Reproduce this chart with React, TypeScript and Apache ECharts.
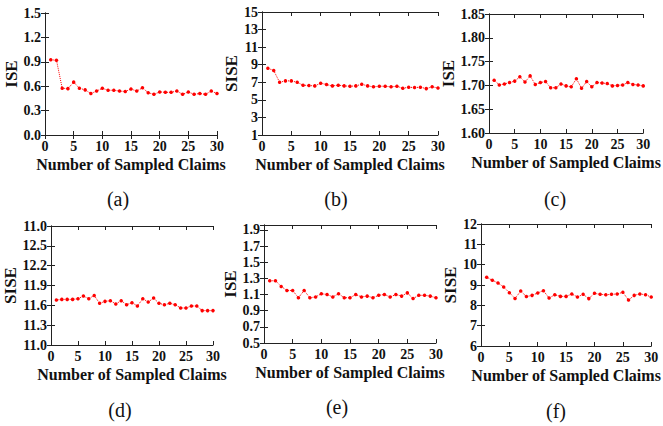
import React, { useEffect, useRef } from "react";
import * as echarts from "echarts";

const claims = [1, 2, 3, 4, 5, 6, 7, 8, 9, 10, 11, 12, 13, 14, 15, 16, 17, 18, 19, 20, 21, 22, 23, 24, 25, 26, 27, 28, 29, 30];

const iseA = [0.925, 0.92, 0.575, 0.57, 0.65, 0.575, 0.555, 0.51, 0.54, 0.575, 0.55, 0.55, 0.54, 0.535, 0.565, 0.54, 0.58, 0.52, 0.5, 0.53, 0.525, 0.525, 0.54, 0.5, 0.53, 0.5, 0.51, 0.5, 0.54, 0.51];
const siseB = [8.6, 8.34, 7.0, 7.16, 7.16, 7.0, 6.67, 6.63, 6.59, 6.9, 6.74, 6.59, 6.67, 6.59, 6.55, 6.59, 6.78, 6.59, 6.48, 6.55, 6.55, 6.48, 6.55, 6.32, 6.44, 6.4, 6.44, 6.28, 6.48, 6.36];
const iseC = [1.711, 1.701, 1.703, 1.706, 1.709, 1.718, 1.707, 1.72, 1.702, 1.706, 1.708, 1.695, 1.695, 1.703, 1.699, 1.697, 1.714, 1.694, 1.708, 1.697, 1.706, 1.705, 1.704, 1.699, 1.7, 1.701, 1.706, 1.702, 1.701, 1.699];
const siseD = [11.68, 11.69, 11.69, 11.69, 11.7, 11.74, 11.7, 11.75, 11.63, 11.66, 11.67, 11.62, 11.67, 11.61, 11.64, 11.59, 11.7, 11.65, 11.71, 11.63, 11.61, 11.63, 11.61, 11.56, 11.56, 11.59, 11.59, 11.52, 11.52, 11.52];
const iseE = [1.27, 1.27, 1.2, 1.15, 1.15, 1.06, 1.15, 1.06, 1.07, 1.11, 1.1, 1.07, 1.11, 1.06, 1.06, 1.1, 1.07, 1.08, 1.06, 1.09, 1.1, 1.07, 1.1, 1.08, 1.12, 1.05, 1.09, 1.09, 1.08, 1.06];
const siseF = [9.38, 9.23, 9.1, 8.9, 8.62, 8.34, 8.7, 8.43, 8.49, 8.61, 8.72, 8.36, 8.52, 8.44, 8.44, 8.56, 8.41, 8.54, 8.33, 8.59, 8.54, 8.52, 8.54, 8.56, 8.64, 8.26, 8.49, 8.56, 8.52, 8.41];

// tick labels of panel (d), as printed in the original figure
const yTickLabelsD = ["11.0", "11.3", "11.6", "11.9", "12.2", "12.5", "11.0"];
const captions = ["(a)", "(b)", "(c)", "(d)", "(e)", "(f)"];
const yNames = ["ISE", "SISE", "ISE", "SISE", "ISE", "SISE"];
const xName = "Number of Sampled Claims";

const FONT = "'Liberation Serif', 'Times New Roman', serif";

export default function App() {
  const ref = useRef<HTMLDivElement>(null);

  useEffect(() => {
    if (!ref.current) return;
    const chart = echarts.init(ref.current, undefined, { renderer: "svg" });

    const panels = [
      { data: iseA, grid: { left: 45, top: 13, width: 172, height: 122 }, min: 0, max: 1.5, interval: 0.3, fmt: (v: number) => v.toFixed(1), gap: 21, cap: [118, 199] },
      { data: siseB, grid: { left: 262, top: 12, width: 176, height: 123 }, min: 1, max: 15, interval: 2, fmt: (v: number) => v.toFixed(0), gap: 18, cap: [336, 199] },
      { data: iseC, grid: { left: 489, top: 14, width: 163, height: 119 }, min: 1.6, max: 1.85, interval: 0.05, fmt: (v: number) => v.toFixed(2), gap: 27, cap: [555, 199] },
      { data: siseD, grid: { left: 51, top: 226, width: 162, height: 119 }, min: 11, max: 12.8, interval: 0.3, fmt: (v: number) => yTickLabelsD[Math.round((v - 11) / 0.3)] ?? "", gap: 27, cap: [120, 410] },
      { data: iseE, grid: { left: 264, top: 225, width: 172, height: 118 }, min: 0.5, max: 1.96, interval: 0.2, fmt: (v: number) => v.toFixed(1), gap: 20, cap: [337, 407], hideMax: true },
      { data: siseF, grid: { left: 481, top: 224, width: 176, height: 122 }, min: 6, max: 12, interval: 1, fmt: (v: number) => v.toFixed(0), gap: 19, cap: [556, 411] },
    ];

    const axisLine = { show: true, lineStyle: { color: "#222", width: 1 } };
    const axisTick = { show: true, inside: true, length: 4, lineStyle: { color: "#222", width: 1 } };
    const labelStyle = { color: "#111", fontFamily: FONT, fontWeight: "bold" as const, fontSize: 14 };

    const grids: any[] = [];
    const xAxes: any[] = [];
    const yAxes: any[] = [];
    const series: any[] = [];
    const graphics: any[] = [];

    panels.forEach((p, i) => {
      grids.push({ ...p.grid, containLabel: false, show: false });
      const xBase = { type: "value", gridIndex: i, min: 0, max: 30, interval: 5, splitLine: { show: false }, axisLine, axisTick };
      xAxes.push({
        ...xBase,
        position: "bottom",
        axisLabel: { ...labelStyle, margin: 4 },
        name: xName,
        nameLocation: "middle",
        nameGap: 21,
        nameTextStyle: { color: "#111", fontFamily: FONT, fontWeight: "bold", fontSize: 16 },
      });
      xAxes.push({ ...xBase, position: "top", axisLabel: { show: false } });
      const yBase = { type: "value", gridIndex: i, min: p.min, max: p.max, interval: p.interval, splitLine: { show: false }, axisLine, axisTick };
      yAxes.push({
        ...yBase,
        position: "left",
        axisLabel: { ...labelStyle, margin: 4, formatter: p.fmt, showMaxLabel: !p.hideMax },
        name: yNames[i],
        nameLocation: "middle",
        nameGap: p.gap,
        nameTextStyle: { color: "#111", fontFamily: FONT, fontWeight: "bold", fontSize: 17 },
      });
      yAxes.push({ ...yBase, position: "right", axisLabel: { show: false } });
      series.push({
        type: "line",
        xAxisIndex: i * 2,
        yAxisIndex: i * 2,
        data: claims.map((c, k) => [c, p.data[k]]),
        symbol: "circle",
        symbolSize: 3.5,
        itemStyle: { color: "#ff0000" },
        lineStyle: { color: "#ff0000", width: 1, type: "dotted" },
      });
      graphics.push({
        type: "text",
        x: p.cap[0],
        y: p.cap[1],
        style: { text: captions[i], fill: "#111", font: `20px ${FONT}`, textAlign: "center", textVerticalAlign: "middle" },
      });
    });

    chart.setOption({
      animation: false,
      backgroundColor: "#fff",
      textStyle: { fontFamily: FONT },
      grid: grids,
      xAxis: xAxes,
      yAxis: yAxes,
      series,
      graphic: graphics,
    });

    return () => chart.dispose();
  }, []);

  return <div ref={ref} style={{ position: "fixed", left: 0, top: 0, width: 663, height: 426, background: "#fff" }} />;
}
